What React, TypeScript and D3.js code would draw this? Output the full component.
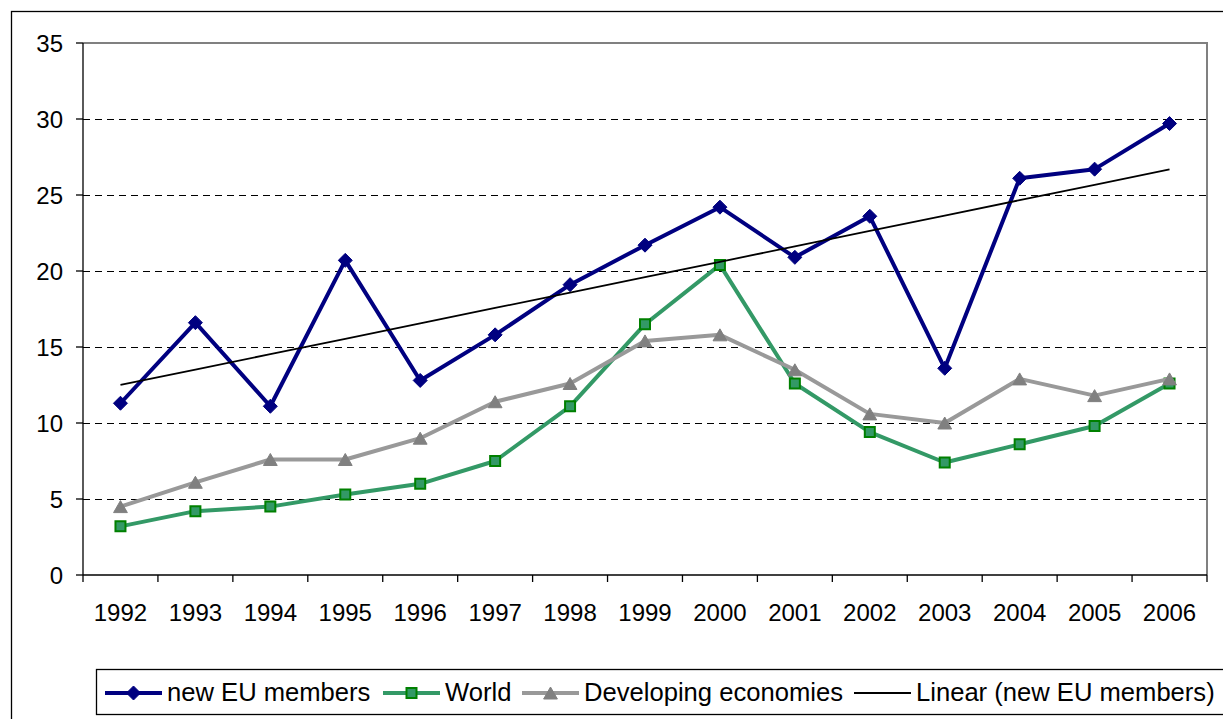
import React from "react";
import * as d3 from "d3";

// Years on the category axis
const years = ["1992", "1993", "1994", "1995", "1996", "1997", "1998", "1999", "2000", "2001", "2002", "2003", "2004", "2005", "2006"];

// Series values
const newEuMembers = [11.3, 16.6, 11.1, 20.7, 12.8, 15.8, 19.1, 21.7, 24.2, 20.9, 23.6, 13.6, 26.1, 26.7, 29.7];
const world = [3.2, 4.2, 4.5, 5.3, 6.0, 7.5, 11.1, 16.5, 20.4, 12.6, 9.4, 7.4, 8.6, 9.8, 12.6];
const developingEconomies = [4.5, 6.1, 7.6, 7.6, 9.0, 11.4, 12.6, 15.4, 15.8, 13.5, 10.6, 10.0, 12.9, 11.8, 12.9];

// Value axis ticks
const yTicks = [0, 5, 10, 15, 20, 25, 30, 35];

const legendLabels = ["new EU members", "World", "Developing economies", "Linear (new EU members)"];

const W = 1223;
const H = 719;
const plot = { left: 83, right: 1207, top: 43, bottom: 575 };
const FONT = "'Liberation Sans', Arial, Helvetica, sans-serif";

const NAVY = "#000080";
const GREEN_LINE = "#339966";
const GREEN_EDGE = "#008000";
const GRAY_LINE = "#999999";
const GRAY_MARK = "#808080";

// Least-squares fit of values against 1..n, as a spreadsheet trendline does
function linearFit(values: number[]) {
  const xs = values.map((_, i) => i + 1);
  const mx = d3.mean(xs) as number;
  const my = d3.mean(values) as number;
  const sxy = d3.sum(xs, (x, i) => (x - mx) * (values[i] - my));
  const sxx = d3.sum(xs, (x) => (x - mx) * (x - mx));
  const slope = sxy / sxx;
  const intercept = my - slope * mx;
  return values.map((_, i) => intercept + slope * (i + 1));
}

function diamond(cx: number, cy: number, r: number) {
  return `M${cx},${cy - r}L${cx + r},${cy}L${cx},${cy + r}L${cx - r},${cy}Z`;
}
function square(cx: number, cy: number, r: number) {
  return `M${cx - r},${cy - r}H${cx + r}V${cy + r}H${cx - r}Z`;
}
function triangle(cx: number, cy: number, r: number) {
  return `M${cx},${cy - r}L${cx + r * 1.15},${cy + r}L${cx - r * 1.15},${cy + r}Z`;
}

export default function App() {
  const x = d3.scaleBand<string>().domain(years).range([plot.left, plot.right]).padding(0);
  const y = d3.scaleLinear().domain([0, 35]).range([plot.bottom, plot.top]);
  const cx = (i: number) => (x(years[i]) as number) + x.bandwidth() / 2;

  const line = d3
    .line<number>()
    .x((_, i) => cx(i))
    .y((d) => y(d));

  const trend = linearFit(newEuMembers);
  const trendPath = d3
    .line<number>()
    .x((_, i) => cx(i))
    .y((d) => y(d))(trend);

  const boundaries = years.map((yr) => x(yr) as number).concat([plot.right]);

  // Legend item anchors (left end of each sample line)
  const legendX = [105, 383, 522, 854];
  const legendY = 693;
  const sampleLen = 57;

  return (
    <svg
      width={W}
      height={H}
      style={{ position: "fixed", left: 0, top: 0, background: "#fff", fontFamily: FONT }}
    >
      <rect x={0} y={0} width={W} height={H} fill="#fff" />
      {/* chart frame */}
      <rect x={11.5} y={11.5} width={W + 20} height={H + 20} fill="none" stroke="#000" strokeWidth={1.3} />

      {/* plot frame (top and right edges) */}
      <path
        d={`M${plot.left},${plot.top}H${plot.right}V${plot.bottom}`}
        fill="none"
        stroke="#808080"
        strokeWidth={2}
      />

      {/* horizontal gridlines */}
      {yTicks
        .filter((t) => t > 0 && t < 35)
        .map((t) => (
          <line
            key={`g${t}`}
            x1={plot.left}
            x2={plot.right}
            y1={Math.round(y(t)) + 0.5}
            y2={Math.round(y(t)) + 0.5}
            stroke="#000"
            strokeWidth={1}
            strokeDasharray="7,5"
          />
        ))}

      {/* value axis */}
      <line x1={plot.left} x2={plot.left} y1={plot.top} y2={plot.bottom} stroke="#000" strokeWidth={1.3} />
      {yTicks.map((t) => (
        <g key={`y${t}`}>
          <line x1={plot.left - 7} x2={plot.left} y1={y(t)} y2={y(t)} stroke="#000" strokeWidth={1.3} />
          <text x={63} y={y(t) + 8.5} textAnchor="end" fontSize={24} fill="#000">
            {t}
          </text>
        </g>
      ))}

      {/* category axis */}
      <line x1={plot.left} x2={plot.right} y1={plot.bottom} y2={plot.bottom} stroke="#000" strokeWidth={1.3} />
      {boundaries.map((bx, i) => (
        <line key={`xt${i}`} x1={bx} x2={bx} y1={plot.bottom} y2={plot.bottom + 7} stroke="#000" strokeWidth={1.3} />
      ))}
      {years.map((yr, i) => (
        <text key={`xl${yr}`} x={cx(i)} y={621} textAnchor="middle" fontSize={24} fill="#000">
          {yr}
        </text>
      ))}

      {/* new EU members */}
      <path d={line(newEuMembers) as string} fill="none" stroke={NAVY} strokeWidth={4} strokeLinejoin="round" />
      {newEuMembers.map((v, i) => (
        <path key={`eu${i}`} d={diamond(cx(i), y(v), 7)} fill={NAVY} stroke={NAVY} strokeWidth={1} />
      ))}

      {/* World */}
      <path d={line(world) as string} fill="none" stroke={GREEN_LINE} strokeWidth={4} strokeLinejoin="round" />
      {world.map((v, i) => (
        <path key={`w${i}`} d={square(cx(i), y(v), 5)} fill={GREEN_LINE} stroke={GREEN_EDGE} strokeWidth={2} />
      ))}

      {/* Developing economies */}
      <path
        d={line(developingEconomies) as string}
        fill="none"
        stroke={GRAY_LINE}
        strokeWidth={4}
        strokeLinejoin="round"
      />
      {developingEconomies.map((v, i) => (
        <path key={`d${i}`} d={triangle(cx(i), y(v), 6)} fill={GRAY_MARK} stroke={GRAY_MARK} strokeWidth={1} />
      ))}

      {/* linear trend of new EU members */}
      <path d={trendPath as string} fill="none" stroke="#000" strokeWidth={1.8} />

      {/* legend */}
      <rect x={96.5} y={669.5} width={W} height={45} fill="#fff" stroke="#000" strokeWidth={1.3} />
      {legendLabels.map((label, k) => {
        const lx = legendX[k];
        const mid = lx + sampleLen / 2;
        const colors = [NAVY, GREEN_LINE, GRAY_LINE, "#000"];
        return (
          <g key={label}>
            <line
              x1={lx}
              x2={lx + sampleLen}
              y1={legendY}
              y2={legendY}
              stroke={colors[k]}
              strokeWidth={k === 3 ? 1.8 : 4}
            />
            {k === 0 && <path d={diamond(mid, legendY, 7)} fill={NAVY} stroke={NAVY} />}
            {k === 1 && <path d={square(mid, legendY, 5)} fill={GREEN_LINE} stroke={GREEN_EDGE} strokeWidth={2} />}
            {k === 2 && <path d={triangle(mid, legendY, 6)} fill={GRAY_MARK} stroke={GRAY_MARK} />}
            <text x={lx + sampleLen + 5} y={701} fontSize={25.6} fill="#000">
              {label}
            </text>
          </g>
        );
      })}
    </svg>
  );
}
